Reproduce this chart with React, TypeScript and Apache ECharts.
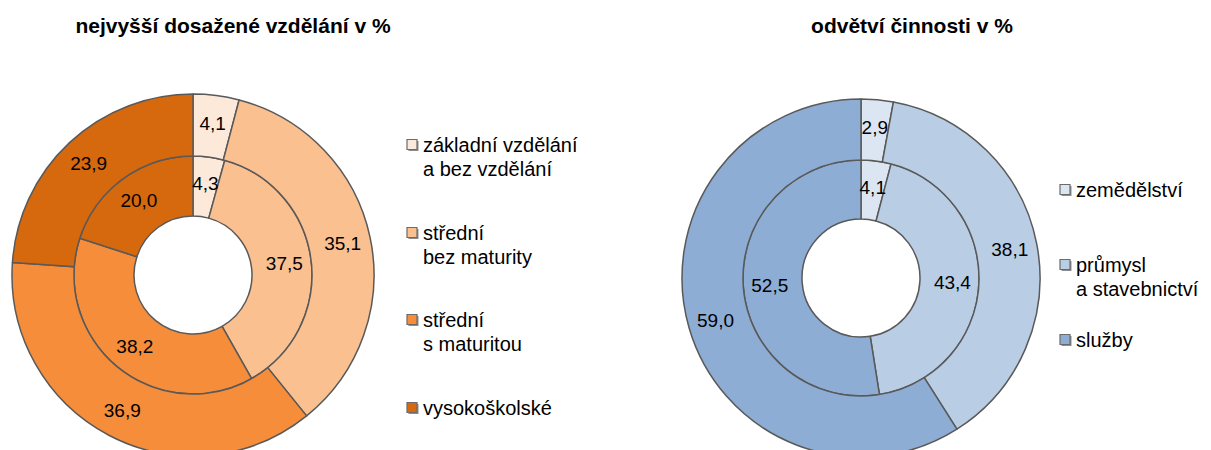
import React, { useEffect, useRef } from "react";
import * as echarts from "echarts";

// ---- data ----
const eduNames = ["základní vzdělání a bez vzdělání", "střední bez maturity", "střední s maturitou", "vysokoškolské"];
const eduLegendLines = [["základní vzdělání", "a bez vzdělání"], ["střední", "bez maturity"], ["střední", "s maturitou"], ["vysokoškolské"]];
const eduKraj = [4.3, 37.5, 38.2, 20.0];
const eduCR = [4.1, 35.1, 36.9, 23.9];
const eduColors = ["#FDE9D9", "#FAC090", "#F58D3A", "#D6680E"];

const sectorNames = ["zemědělství", "průmysl a stavebnictví", "služby"];
const sectorLegendLines = [["zemědělství"], ["průmysl", "a stavebnictví"], ["služby"]];
const sectorKraj = [4.1, 43.4, 52.5];
const sectorCR = [2.9, 38.1, 59.0];
const sectorColors = ["#DCE6F2", "#B9CDE5", "#8DADD5"];

const titles = ["nejvyšší dosažené vzdělání v %", "odvětví činnosti v %"];

const FONT = "'Liberation Sans', Arial, sans-serif";

function fmt(v: number) {
  return v.toFixed(1).replace(".", ",");
}

function pieSeries(names: string[], values: number[], colors: string[], center: [number, number], radius: [number, number]) {
  return {
    type: "pie",
    center,
    radius,
    startAngle: 90,
    clockwise: true,
    silent: true,
    avoidLabelOverlap: false,
    label: {
      show: true,
      position: "inside",
      formatter: (p: any) => fmt(p.value),
      color: "#000",
      fontSize: 19,
      fontFamily: FONT,
    },
    labelLine: { show: false },
    itemStyle: { borderColor: "#595959", borderWidth: 1.5 },
    data: names.map((n, i) => ({ name: n, value: values[i], itemStyle: { color: colors[i] } })),
  };
}

function legendGraphics(lines: string[][], colors: string[], x: number, ys: number[]) {
  const els: any[] = [];
  lines.forEach((ls, i) => {
    els.push({
      type: "rect",
      shape: { x: x + 1.5, y: ys[i] - 4, width: 10, height: 10 },
      style: { fill: "#8c8c8c" },
      silent: true,
    });
    els.push({
      type: "rect",
      shape: { x: x, y: ys[i] - 5.5, width: 10, height: 10 },
      style: { fill: colors[i], stroke: "#6b6b6b", lineWidth: 1.2 },
      silent: true,
    });
    els.push({
      type: "text",
      x: x + 16,
      y: ys[i] - 12,
      style: {
        text: ls.join("\n"),
        fontSize: 20,
        fontFamily: FONT,
        fill: "#000",
        lineHeight: 24,
        textVerticalAlign: "top",
      },
      silent: true,
    });
  });
  return els;
}

export default function App() {
  const ref = useRef<HTMLDivElement>(null);
  useEffect(() => {
    if (!ref.current) return;
    const chart = echarts.init(ref.current, undefined, { renderer: "svg" });
    const boldText = (text: string, x: number, y: number, size: number) => ({
      type: "text",
      x,
      y,
      style: {
        text,
        fontSize: size,
        fontWeight: "bold",
        fontFamily: FONT,
        fill: "#000",
        textAlign: "center",
        textVerticalAlign: "middle",
      },
      silent: true,
    });
    chart.setOption({
      animation: false,
      backgroundColor: "#fff",
      series: [
        pieSeries(eduNames, eduKraj, eduColors, [193, 275], [59, 119]),
        pieSeries(eduNames, eduCR, eduColors, [193, 275], [119, 181]),
        pieSeries(sectorNames, sectorKraj, sectorColors, [861, 278], [59, 118]),
        pieSeries(sectorNames, sectorCR, sectorColors, [861, 278], [118, 179]),
      ],
      graphic: [
        boldText(titles[0], 233, 25, 21),
        boldText(titles[1], 912, 25, 21),
        boldText("ČR", 297, 157, 20),
        boldText("kraj", 263, 213, 20),
        boldText("ČR", 933, 150, 20),
        boldText("kraj", 912, 206, 20),
        ...legendGraphics(eduLegendLines, eduColors, 407, [145, 233, 320, 408]),
        ...legendGraphics(sectorLegendLines, sectorColors, 1060, [190, 265, 340]),
      ],
    });
    return () => chart.dispose();
  }, []);
  return <div ref={ref} style={{ position: "fixed", left: 0, top: 0, width: 1211, height: 450 }} />;
}
